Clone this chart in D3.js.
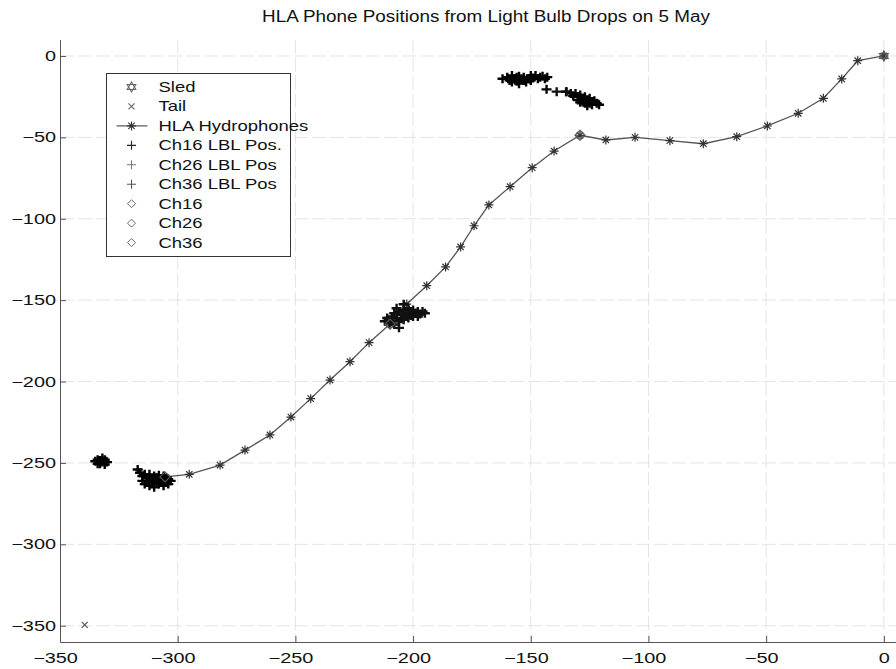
<!DOCTYPE html>
<html>
<head>
<meta charset="utf-8">
<script src="https://cdn.jsdelivr.net/npm/d3@7"></script>
<style>
  body { margin: 0; background: #fff; }
  svg text { font-family: "Liberation Sans", Arial, sans-serif; fill: #111; }
</style>
</head>
<body>
<script>
// values
var xTicks = [-350, -300, -250, -200, -150, -100, -50, 0];
var yTicks = [0, -50, -100, -150, -200, -250, -300, -350];

var sled = [[0, 0]];
var tail = [[-339.5, -349.5]];

var hla = [
    [0, 0], [-11.1, -2.9], [-17.9, -14.1], [-25.7, -26.0], [-36.4, -35.2],
    [-49.5, -43.0], [-62.5, -49.6], [-76.7, -53.9], [-90.9, -52.0], [-105.7, -50.0],
    [-118.1, -51.6], [-129.1, -48.7], [-140.1, -58.4], [-149.4, -68.6], [-158.8, -80.3],
    [-167.8, -91.5], [-174.1, -104.3], [-179.8, -117.3], [-186.2, -129.6], [-194.2, -141.1],
    [-202.7, -152.4], [-209.8, -164.7], [-218.7, -176.1], [-226.8, -187.8], [-235.3, -199.1],
    [-243.5, -210.5], [-251.9, -221.8], [-260.8, -232.8], [-271.4, -242.1], [-282.0, -251.3],
    [-295.1, -257.0], [-305.4, -258.6]
];

var ch16Lbl = [
    [-162, -14], [-160, -13], [-159, -15], [-158, -12], [-158, -16], [-157, -14],
    [-156, -13], [-156, -15.5], [-155, -12.5], [-155, -17], [-154, -14], [-153, -15],
    [-153, -13], [-152, -16], [-151, -14], [-150, -12], [-150, -15], [-149, -13.5],
    [-148, -12], [-147, -14], [-146, -13], [-145, -12.5], [-144, -14], [-143, -13],
    [-143.3, -20.5],
    [-135, -22], [-133, -23], [-132, -24.5], [-131, -23], [-130, -25], [-130, -27],
    [-129, -24], [-128, -26], [-128, -28], [-127, -25], [-127, -29], [-126, -27],
    [-125, -26], [-125, -29], [-124, -28], [-124, -30], [-123, -27.5], [-122, -29],
    [-121, -30], [-126, -30.5], [-129, -28.5]
];
var ch26Lbl = [
    [-139, -21.9], [-134.8, -21.9],
    [-212, -163], [-211, -161], [-210, -164], [-209, -160], [-209, -162.5], [-208, -158],
    [-208, -165], [-207, -161], [-206, -157], [-206, -163], [-206, -167], [-205, -159],
    [-205, -161.5], [-204, -156], [-204, -162], [-203, -158], [-203, -160], [-202, -155],
    [-202, -161], [-201, -157], [-201, -159.5], [-200, -156], [-200, -160], [-199, -158],
    [-198, -157], [-198, -160], [-197, -158.5], [-196, -157], [-195, -158], [-207, -155],
    [-204, -152.5]
];
var ch36Lbl = [
    [-317, -254], [-316, -256], [-315, -258], [-315, -261], [-314, -257], [-314, -263],
    [-313, -259], [-313, -261.5], [-312, -257], [-312, -264], [-311, -260], [-311, -262],
    [-310, -258], [-310, -265], [-309, -259], [-309, -262], [-308, -257.5], [-308, -263],
    [-307, -260], [-307, -261.5], [-306, -258], [-306, -264], [-305, -259.5], [-305, -262],
    [-304, -260], [-304, -263], [-303, -261], [-312, -259.5], [-309, -260.5],
    [-335, -249], [-334, -248], [-333, -250.5], [-333, -248.5], [-332, -249.5], [-331, -248],
    [-331, -251], [-330, -249.5], [-334, -250.5], [-332, -247]
];
var ch16 = [[-129.1, -48.7]];
var ch26 = [[-209.8, -164.7]];
var ch36 = [[-305.4, -258.6]];

var legendLabels = ["Sled", "Tail", "HLA Hydrophones", "Ch16 LBL Pos.", "Ch26 LBL Pos",
    "Ch36 LBL Pos", "Ch16", "Ch26", "Ch36"];
var legendKinds = ["hex", "x", "line", "plus", "plus", "plus", "diamond", "diamond", "diamond"];
var legendColors = ["#666", "#666", "#333", "#222", "#777", "#555", "#555", "#555", "#555"];

var w = 896, h = 669;

var xScale = d3.scaleLinear().domain([-350, 12.5]).range([60, 913.3]);
var yScale = d3.scaleLinear().domain([10, -360]).range([39.7, 642]);

var svg = d3.select("body").append("svg")
    .attr("width", w)
    .attr("height", h);

// marker shapes
var starPath = "M-4.5,0L4.5,0M0,-4.5L0,4.5M-3.2,-3.2L3.2,3.2M-3.2,3.2L3.2,-3.2";
var plusPath = "M-4.5,0L4.5,0M0,-4.5L0,4.5";
var blobPath = "M-5,0L5,0M0,-4.5L0,4.5";
var xPath = "M-3,-3L3,3M-3,3L3,-3";
var diamondPath = "M0,-5L5,0L0,5L-5,0Z";
function hexPath(r) {
    var up = [], down = [];
    for (var k = 0; k < 3; k++) {
        var a1 = -Math.PI / 2 + k * 2 * Math.PI / 3;
        var a2 = Math.PI / 2 + k * 2 * Math.PI / 3;
        up.push([r * Math.cos(a1), r * Math.sin(a1)]);
        down.push([r * Math.cos(a2), r * Math.sin(a2)]);
    }
    return "M" + up.join("L") + "Z" + "M" + down.join("L") + "Z";
}
var shapes = { hex: hexPath(5), x: xPath, plus: plusPath, diamond: diamondPath };

// grid
svg.append("g").selectAll("line")
    .data(xTicks.slice(1))
    .enter()
    .append("line")
    .attr("x1", function (d) { return xScale(d); })
    .attr("x2", function (d) { return xScale(d); })
    .attr("y1", yScale.range()[0])
    .attr("y2", yScale.range()[1])
    .attr("stroke", "#e4e4e4")
    .attr("stroke-dasharray", "14,4");
svg.append("g").selectAll("line")
    .data(yTicks)
    .enter()
    .append("line")
    .attr("x1", xScale.range()[0])
    .attr("x2", xScale.range()[1])
    .attr("y1", function (d) { return yScale(d); })
    .attr("y2", function (d) { return yScale(d); })
    .attr("stroke", "#e4e4e4")
    .attr("stroke-dasharray", "14,4");

// axes
var tickSx = 1.42;
var xAxis = svg.append("g")
    .attr("transform", "translate(0," + yScale.range()[1] + ")")
    .call(d3.axisBottom(xScale).tickValues(xTicks).tickSize(-6).tickSizeOuter(0));
xAxis.selectAll("text")
    .attr("font-size", "14px")
    .attr("y", 11)
    .attr("x", function (d) { return d < 0 ? -5 / tickSx : 0; })
    .attr("transform", "scale(" + tickSx + ",1)");
var yAxis = svg.append("g")
    .attr("transform", "translate(" + xScale.range()[0] + ",0)")
    .call(d3.axisLeft(yScale).tickValues(yTicks).tickSize(-6).tickSizeOuter(0));
yAxis.selectAll("text")
    .attr("font-size", "14px")
    .attr("x", -4 / tickSx)
    .attr("transform", "scale(" + tickSx + ",1)");
svg.selectAll(".domain, .tick line").attr("stroke", "#555");
svg.selectAll(".tick text").attr("fill", "#111");

// HLA line with star markers
var line = d3.line()
    .x(function (d) { return xScale(d[0]); })
    .y(function (d) { return yScale(d[1]); });
svg.append("path")
    .datum(hla)
    .attr("d", line)
    .attr("fill", "none")
    .attr("stroke", "#555")
    .attr("stroke-width", 1.3);

function drawMarks(data, path, color, width) {
    svg.append("g").selectAll("path")
        .data(data)
        .enter()
        .append("path")
        .attr("transform", function (d) {
            return "translate(" + xScale(d[0]) + "," + yScale(d[1]) + ")";
        })
        .attr("d", path)
        .attr("fill", "none")
        .attr("stroke", color)
        .attr("stroke-width", width);
}
drawMarks(hla, starPath, "#333", 1.2);
drawMarks(ch16Lbl, blobPath, "#000", 2.4);
drawMarks(ch26Lbl, blobPath, "#111", 2.4);
drawMarks(ch36Lbl, blobPath, "#000", 2.4);
drawMarks(ch16, diamondPath, "#555", 1.2);
drawMarks(ch26, diamondPath, "#555", 1.2);
drawMarks(ch36, diamondPath, "#555", 1.2);
drawMarks(sled, shapes.hex, "#555", 1.2);
drawMarks(tail, xPath, "#555", 1.2);

// title
svg.append("text")
    .attr("x", 486)
    .attr("y", 22)
    .attr("text-anchor", "middle")
    .attr("font-size", "16px")
    .attr("textLength", 448)
    .attr("lengthAdjust", "spacingAndGlyphs")
    .text("HLA Phone Positions from Light Bulb Drops on 5 May");

// legend
var lg = svg.append("g");
lg.append("rect")
    .attr("x", 106.5)
    .attr("y", 73.5)
    .attr("width", 184)
    .attr("height", 183)
    .attr("fill", "#fff")
    .attr("stroke", "#333");
var legSx = 1.32;
var rows = lg.selectAll("g.row")
    .data(legendLabels)
    .enter()
    .append("g")
    .attr("class", "row")
    .attr("transform", function (d, i) { return "translate(131.5," + (87 + i * 19.45) + ")"; });
rows.filter(function (d, i) { return legendKinds[i] === "line"; })
    .append("line")
    .attr("x1", -15)
    .attr("x2", 16)
    .attr("stroke", "#555")
    .attr("stroke-width", 1.2);
rows.append("path")
    .attr("d", function (d, i) {
        var k = legendKinds[i];
        return k === "line" ? starPath : shapes[k];
    })
    .attr("transform", function (d, i) {
        return legendKinds[i] === "diamond" ? "scale(0.8)" : null;
    })
    .attr("fill", "none")
    .attr("stroke", function (d, i) { return legendColors[i]; })
    .attr("stroke-width", 1.1);
rows.append("text")
    .attr("x", 27 / legSx)
    .attr("dy", "0.35em")
    .attr("font-size", "14px")
    .attr("transform", "scale(" + legSx + ",1)")
    .text(function (d) { return d; });
</script>
</body>
</html>
